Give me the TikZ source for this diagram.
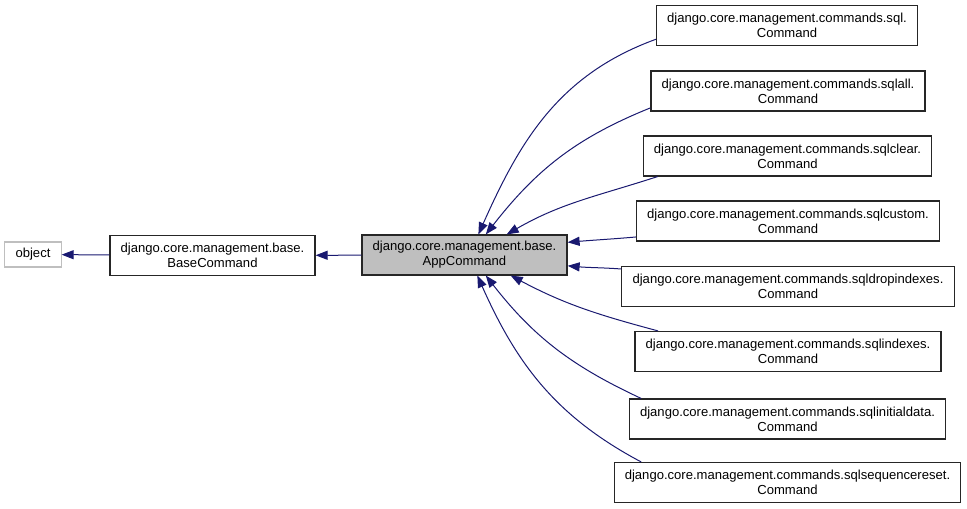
\documentclass[tikz,border=0pt]{standalone}
\usepackage{fontspec}
\setmainfont{Liberation Sans}
\usepackage{tikz}
\usetikzlibrary{positioning,arrows.meta}
\definecolor{edgeblue}{HTML}{191970}
\definecolor{extgray}{HTML}{BFBFBF}

\begin{document}
\begin{tikzpicture}[x=0.75pt, y=-0.75pt,
  cls/.style={draw=black!85, line width=0.85pt, rectangle, minimum height=30pt, inner xsep=8pt, inner ysep=1pt, align=center, font=\fontsize{9.8}{11.3}\selectfont},
  ext/.style={cls, draw=extgray, minimum height=18.75pt},
  cur/.style={cls, fill=extgray},
  rel/.style={-{Triangle[length=9pt, width=6.8pt]}, draw=edgeblue, line width=0.75pt}
]
\useasboundingbox (0,0) rectangle (967,509);
\node[ext] (object) at (33,254.5) {object};
\node[cls] (base) at (212.5,255.5) {django.core.management.base.\\BaseCommand};
\node[cur] (app) at (464.5,255) {django.core.management.base.\\AppCommand};
\node[cls] (sql) at (787,25.5) {django.core.management.commands.sql.\\Command};
\node[cls] (sqlall) at (788,91) {django.core.management.commands.sqlall.\\Command};
\node[cls] (sqlclear) at (787.5,156) {django.core.management.commands.sqlclear.\\Command};
\node[cls] (sqlcustom) at (788,221) {django.core.management.commands.sqlcustom.\\Command};
\node[cls] (sqldropindexes) at (788,286.5) {django.core.management.commands.sqldropindexes.\\Command};
\node[cls] (sqlindexes) at (788,351.5) {django.core.management.commands.sqlindexes.\\Command};
\node[cls] (sqlinitialdata) at (787.5,419) {django.core.management.commands.sqlinitialdata.\\Command};
\node[cls] (sqlsequencereset) at (787.5,482.5) {django.core.management.commands.sqlsequencereset.\\Command};

\draw[rel] (base) -- (object);
\draw[rel] (app) -- (base);
\draw[rel] (sql.186) to[out=200, in=66] (app.56);
\draw[rel] (sqlall.187) to[out=202, in=52] (app.44);
\draw[rel] (sqlclear.189) to[out=198, in=30] (app.26);
\draw[rel] (sqlcustom.186) to[out=185, in=5] (app.7);
\draw[rel] (sqldropindexes.174) to[out=176, in=-5] (app.-6);
\draw[rel] (sqlindexes.171) to[out=165, in=-28] (app.-24);
\draw[rel] (sqlinitialdata.172) to[out=155, in=-52] (app.-44);
\draw[rel] (sqlsequencereset.172) to[out=152, in=-66] (app.-58);
\end{tikzpicture}
\end{document}
